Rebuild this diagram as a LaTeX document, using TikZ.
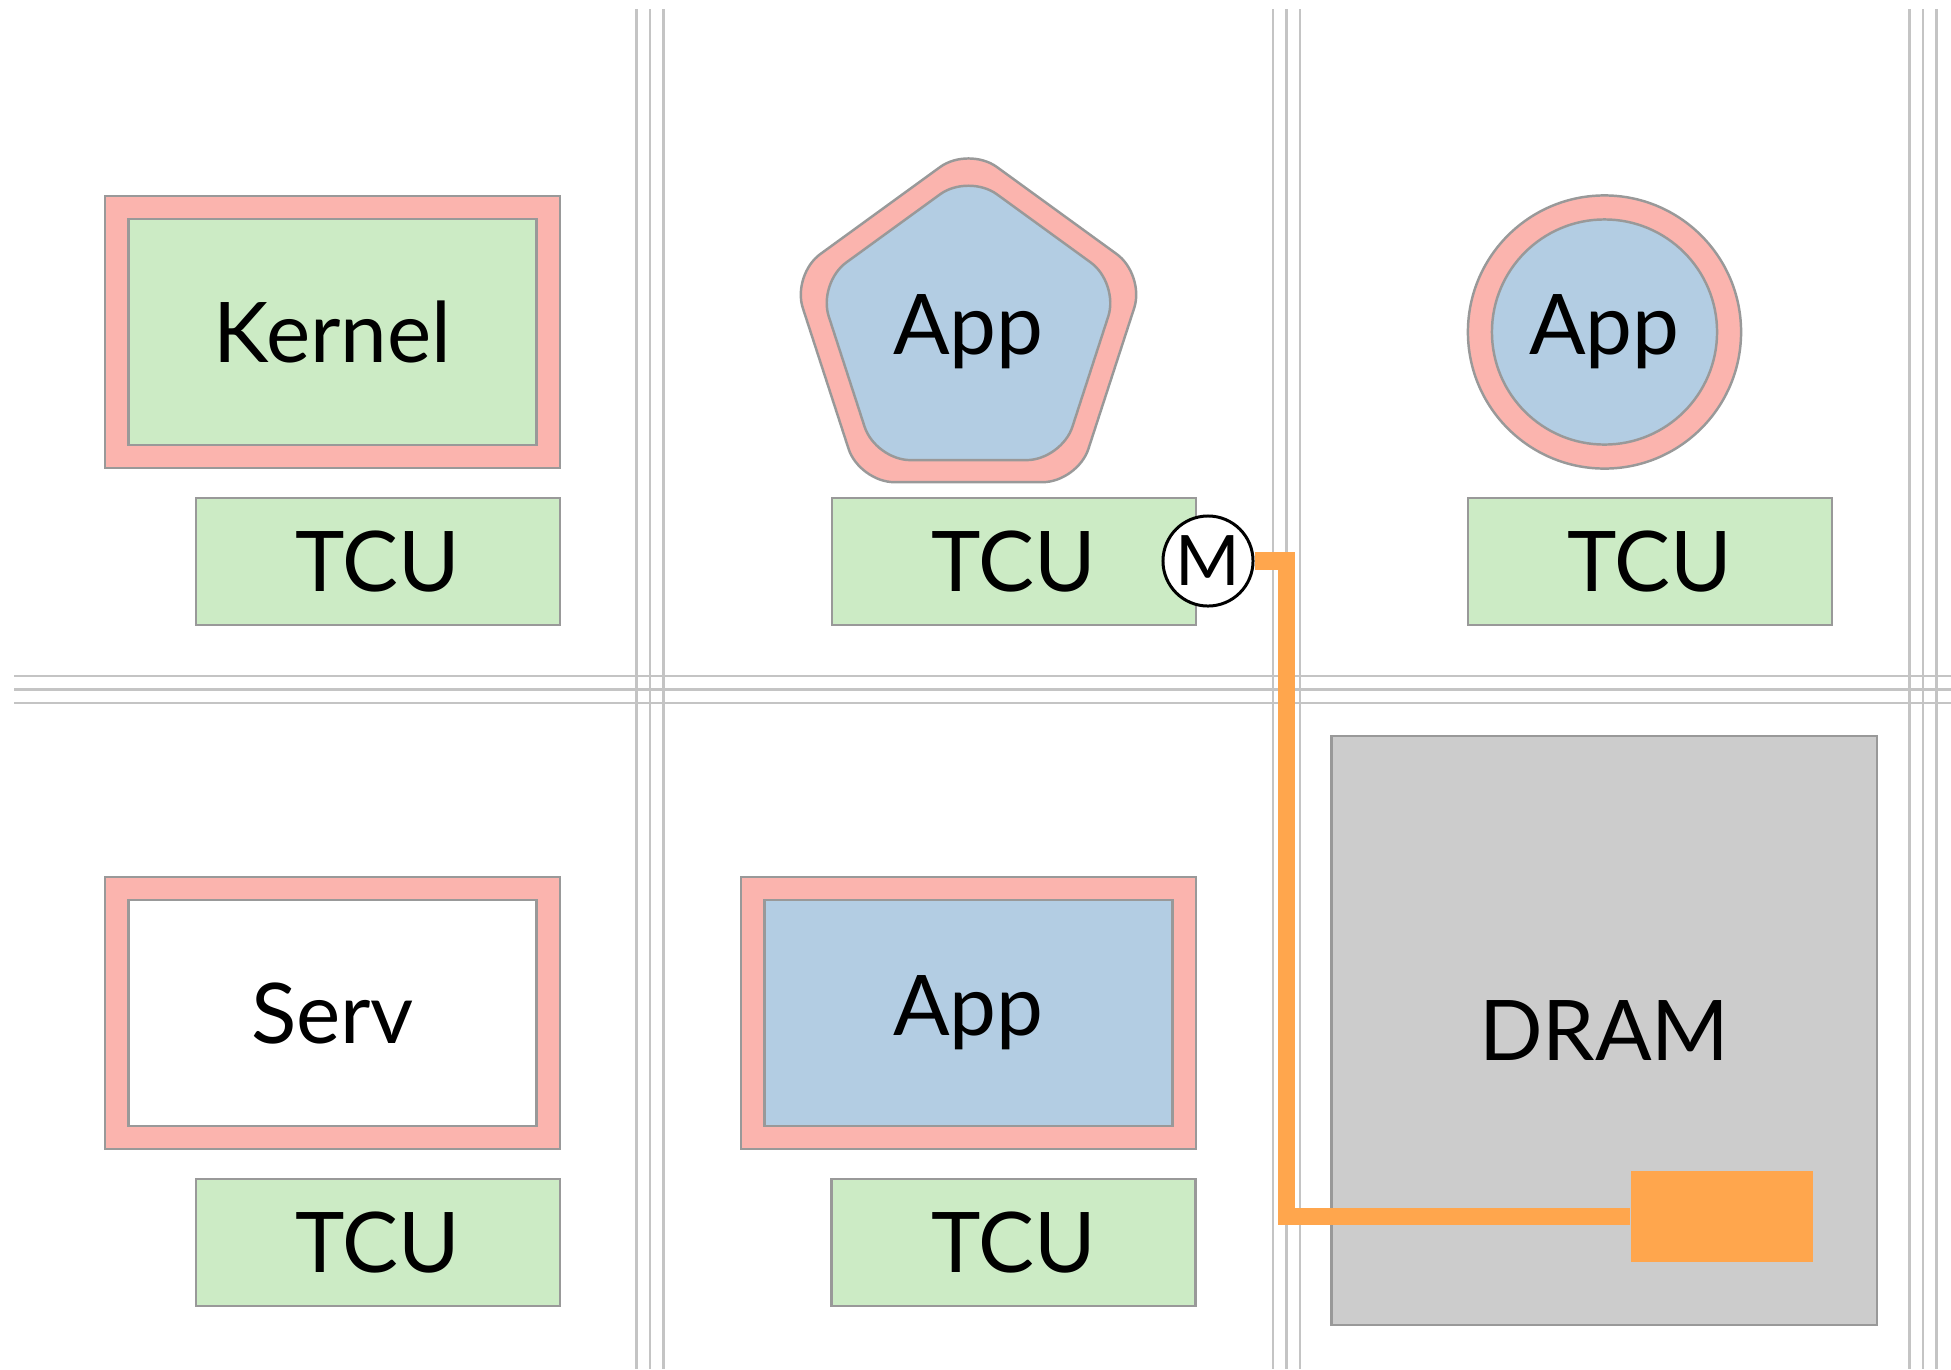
\documentclass[tikz,border=0pt]{standalone}
\usepackage{fontspec}
\setmainfont{Lato}
\usetikzlibrary{shapes.geometric}
\definecolor{ringred}{HTML}{FBB4AE}
\definecolor{tcugreen}{HTML}{CCEBC5}
\definecolor{appblue}{HTML}{B3CDE3}
\definecolor{dramgray}{HTML}{CCCCCC}
\definecolor{wireorange}{HTML}{FFA64D}
\definecolor{bordergray}{HTML}{999999}
\definecolor{gridgray}{HTML}{C4C4C4}
\begin{document}
\begin{tikzpicture}[x=0.01cm,y=-0.01cm,
  lbl/.style={font=\fontsize{23.8}{28}\selectfont, text=black},
  edge/.style={draw=bordergray, line width=0.7pt},
  ring/.style={edge, fill=ringred, inner sep=0pt, outer sep=0pt},
  rbox/.style={rectangle, minimum width=4.55cm, minimum height=2.72cm},
  ibox/.style={rectangle, minimum width=4.08cm, minimum height=2.26cm, inner sep=0pt},
  tcubox/.style={edge, fill=tcugreen, rectangle, minimum width=3.64cm, minimum height=1.27cm, inner sep=0pt, lbl},
  gridline/.style={draw=gridgray, line width=0.7pt},
  wire/.style={draw=wireorange, line width=0.175cm, line join=miter},
  mcirc/.style={circle, draw=black, line width=0.85pt, fill=white, minimum size=0.90cm, inner sep=0pt, font=\fontsize{19.8}{22}\selectfont}
]
\useasboundingbox (0,0) rectangle (1951,1369);
% grid
\foreach \gx in {650,1286.5,1923}{
  \foreach \d in {-13.5,0,13.5}{
    \draw[gridline] (\gx+\d,9) -- (\gx+\d,1369);
  }
}
\foreach \d in {-13.5,0,13.5}{
  \draw[gridline] (14,689.5+\d) -- (1951,689.5+\d);
}
% top left: Kernel
\node[ring, rbox] (kr) at (332.5,332) {};
\node[edge, fill=tcugreen, ibox, lbl] (kernel) at (332.5,332) {Kernel};
\node[tcubox] (t1) at (378,561.5) {TCU};
% top middle: pentagon App
\node[ring, regular polygon, regular polygon sides=5, minimum size=3.71cm, rounded corners=0.35cm] (pr) at (968.5,332) {};
\node[edge, fill=appblue, regular polygon, regular polygon sides=5, minimum size=3.165cm, inner sep=0pt, rounded corners=0.35cm, lbl] (app1) at (968.5,332) {App};
\node[tcubox] (t2) at (1014,561.5) {TCU};
% top right: circle App
\node[ring, circle, minimum size=2.73cm] (cr) at (1604.5,332) {};
\node[edge, fill=appblue, circle, minimum size=2.25cm, inner sep=0pt, lbl] (app2) at (1604.5,332) {App};
\node[tcubox] (t3) at (1650,561.5) {TCU};
% bottom left: Serv
\node[ring, rbox] (sr) at (332.5,1013) {};
\node[edge, fill=white, ibox, lbl] (serv) at (332.5,1013) {Serv};
\node[tcubox] (t4) at (378,1242.5) {TCU};
% bottom middle: App
\node[ring, rbox] (ar) at (968.5,1013) {};
\node[edge, fill=appblue, ibox, lbl] (app3) at (968.5,1013) {App};
\node[tcubox] (t5) at (1013.5,1242.5) {TCU};
% DRAM
\node[edge, fill=dramgray, rectangle, minimum width=5.45cm, minimum height=5.89cm, inner sep=0pt, lbl] (dram) at (1604.3,1030.4) {DRAM};
\node[fill=wireorange, rectangle, minimum width=1.82cm, minimum height=0.91cm, inner sep=0pt] (mem) at (1722,1216.4) {};
% M and wire
\node[mcirc] (m) at (1208,561) {M};
\draw[wire] (m.east) -- (1286.5,561) |- (mem.west);
\end{tikzpicture}
\end{document}
